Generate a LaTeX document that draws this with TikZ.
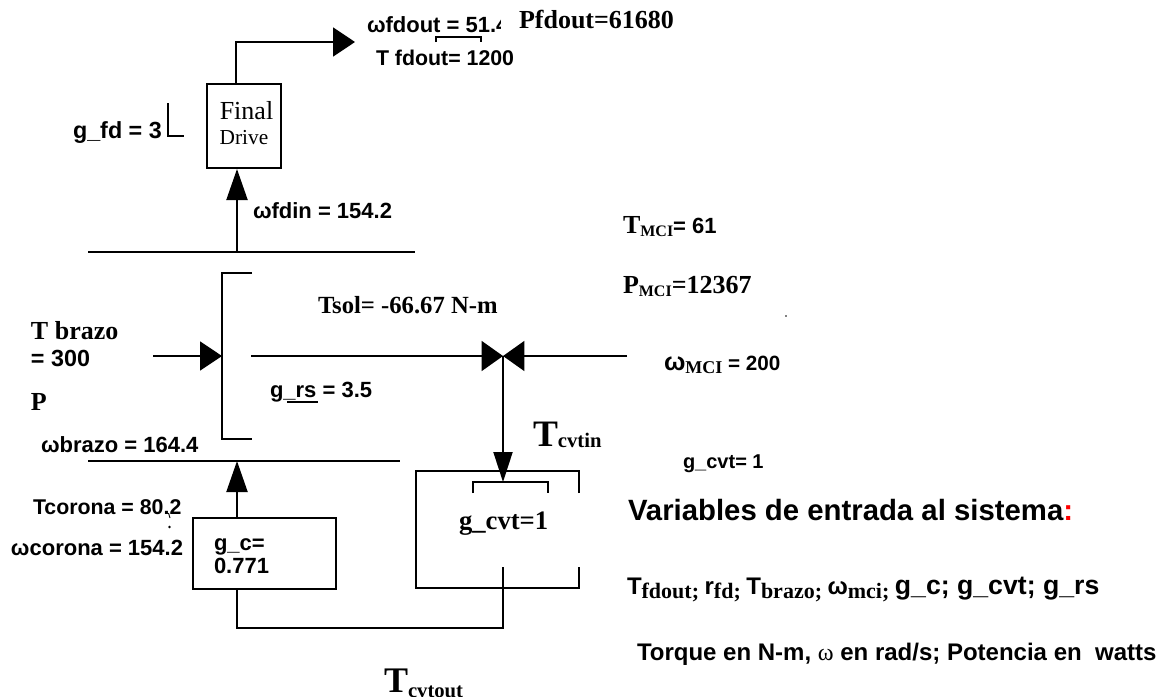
\documentclass[tikz,border=0pt]{standalone}
\usepackage{fontspec}
\setmainfont{Liberation Serif}
\setsansfont{Liberation Sans}
\usetikzlibrary{arrows.meta}
\newcommand{\sfb}[1]{\fontsize{#1}{#1}\selectfont\sffamily\bfseries}
\newcommand{\rmb}[1]{\fontsize{#1}{#1}\selectfont\rmfamily\bfseries}
\begin{document}
\begin{tikzpicture}[x=0.75pt,y=-0.75pt,line width=1.5pt,
  lab/.style={inner sep=0pt, anchor=base west, font=\sfb{16.5}},
  tlab/.style={inner sep=0pt, anchor=base west, font=\rmb{19.5}},
  clab/.style={inner sep=0pt, anchor=base},
  box/.style={draw, inner sep=0pt},
  tipH/.style={-{Triangle[length=16.5pt,width=21.75pt]}},
  tipS/.style={-{Triangle[length=16.1pt,width=22.5pt]}},
  tipV/.style={-{Triangle[length=23.25pt,width=15.75pt]}},
  tipD/.style={-{Triangle[length=22.5pt,width=14.25pt]}}]
\useasboundingbox (0,0) rectangle (1162,696);

% ---------- Final drive ----------
\node[box, minimum width=55.5pt, minimum height=63pt] (fd) at (244,126) {};
\node[clab, font=\rmfamily\fontsize{19.5}{19.5}\selectfont] (fdt1) at (246.5,119) {Final};
\node[clab, font=\rmfamily\fontsize{16}{16}\selectfont] (fdt2) at (244,144) {Drive};

\coordinate (fdoutCorner) at (236,42);
\coordinate (fdoutTip) at (355,42);
\draw[tipH] (fdoutCorner |- fd.north) -- (fdoutCorner) -- (fdoutTip);

\coordinate (busTopL) at (88,252);
\coordinate (busTopR) at (415,252);
\draw (busTopL) -- (busTopR);
\coordinate (fdinBase) at (237,252);
\draw[tipV] (fdinBase) -- (fdinBase |- fd.south);

\coordinate (gfdA) at (168,103);
\coordinate (gfdB) at (168,136);
\coordinate (gfdC) at (184,136);
\draw (gfdA) -- (gfdB) -- (gfdC);

\begin{scope}
\clip (0,0) rectangle (500,100);
\node[lab] (wfdout) at (366,32) {ωfdout = 51.4};
\end{scope}
\coordinate (brA) at (436,42);
\coordinate (brB) at (436,37);
\coordinate (brC) at (481,37);
\coordinate (brD) at (481,42);
\draw (brA) -- (brB) -- (brC) -- (brD);
\node[tlab] (pfd) at (518,28) {Pfdout=61680};
\node[lab, font=\sfb{16}] (tfd) at (375,65) {T fdout= 1200};
\node[lab, font=\sfb{17.5}] (gfd) at (72,138) {g\_fd = 3};
\node[lab] (wfdin) at (252,218) {ωfdin = 154.2};

% ---------- planetary ----------
\coordinate (pbA) at (252,273);
\coordinate (pbB) at (222,273);
\coordinate (pbC) at (222,439);
\coordinate (pbD) at (252,439);
\draw (pbA) -- (pbB) -- (pbC) -- (pbD);

\coordinate (brazoIn) at (153,356);
\coordinate (bracketMid) at (222,356);
\draw[tipH] (brazoIn) -- (bracketMid);

\coordinate (sunL) at (251,356);
\coordinate (junc) at (503,356);
\coordinate (mciR) at (627,356);
\draw[tipS] (sunL) -- (junc);
\draw[tipS] (mciR) -- (junc);

% ---------- CVT ----------
\coordinate (cvtIn) at (503,482);
\draw[tipD] (junc) -- (cvtIn);
\coordinate (ibA) at (473,493);
\coordinate (ibB) at (473,482);
\coordinate (ibC) at (548,482);
\coordinate (ibD) at (548,493);
\draw (ibA) -- (ibB) -- (ibC) -- (ibD);

\coordinate (cvA) at (579,493);
\coordinate (cvB) at (579,471);
\coordinate (cvC) at (416,471);
\coordinate (cvD) at (416,588);
\coordinate (cvE) at (579,588);
\coordinate (cvF) at (579,567);
\draw (cvA) -- (cvB) -- (cvC) -- (cvD) -- (cvE) -- (cvF);
\node[tlab, font=\rmb{20}] (gcvtin) at (458,529) {g\_cvt=1};

% ---------- ring / g_c ----------
\node[box, minimum width=107.25pt, minimum height=53.25pt] (gc) at (264.5,553.5) {};
\node[lab] (gc1) at (213,550) {g\_c=};
\node[lab] (gc2) at (213,573) {0.771};

\coordinate (cvtOut) at (503,567);
\coordinate (retA) at (503,628);
\coordinate (retB) at (237,628);
\draw (cvtOut) -- (retA) -- (retB) -- (retB |- gc.south);

\coordinate (busBotL) at (88,461);
\coordinate (busBotR) at (400,461);
\draw (busBotL) -- (busBotR);
\coordinate (ringIn) at (237,461);
\draw[tipV] (ringIn |- gc.north) -- (ringIn);

% ---------- labels ----------
\node[tlab] (tbrazo) at (30,339) {T brazo};
\node[lab, font=\sfb{17.5}] (tbrazo2) at (30,366) {= 300};
\node[tlab] (pl) at (30,410) {P};
\node[tlab, font=\rmb{18.5}] (tsol) at (317,313) {Tsol= -66.67 N-m};
\node[lab] (grs) at (269,397) {g\_rs = 3.5};
\coordinate (grsU1) at (287,402);
\coordinate (grsU2) at (318,402);
\draw[line width=1.1pt] (grsU1) -- (grsU2);
\node[lab] (wbrazo) at (40,452) {ωbrazo = 164.4};
\node[lab, font=\sfb{16}] (tcorona) at (32,514) {Tcorona = 80.2};
\node[lab] (wcorona) at (10,555) {ωcorona = 154.2};
\fill (169.5,527) circle (1pt);
\draw[line width=0.7pt] (168.5,513) -- (170,518);
\fill (786,316) circle (0.6pt);

\node[lab] (tmci) at (622,233) {\rmb{19.5}T\raisebox{-2.25pt}{\rmb{12}MCI}\sfb{16.5}= 61};
\node[lab] (pmci) at (622,293) {\rmb{19.5}P\raisebox{-2.25pt}{\rmb{12}MCI}\rmb{19.5}=12367};
\node[lab] (wmci) at (663,370) {\sfb{19}ω\raisebox{-2.25pt}{\rmb{13.5}MCI}\sfb{15.5} = 200};
\node[lab] (tcvtin) at (532,446) {\rmb{28}T\raisebox{-1pt}{\rmb{15.5}cvtin}};
\node[lab] (tcvtout) at (383,692) {\rmb{27}T\raisebox{-3.75pt}{\rmb{15.5}cvtout}};
\node[lab, font=\sfb{15}] (gcvt) at (682,468) {g\_cvt= 1};

\node[lab, font=\sfb{22}] (vars) at (627,520) {Variables de entrada al sistema\textcolor{red}{:}};
\node[lab, font=\sfb{18}] (varlist) at (626,594) {T\raisebox{-3pt}{\rmb{16.5}fdout; }\sfb{18}r\raisebox{-3pt}{\rmb{16.5}fd; }\sfb{18}T\raisebox{-3pt}{\rmb{16.5}brazo; }\sfb{18}ω\raisebox{-3pt}{\rmb{16.5}mci; }\sfb{20}g\_c; g\_cvt; g\_rs};
\node[lab, font=\sfb{18}] (units) at (636,660) {Torque en N-m, {\rmfamily\mdseries ω} en rad/s; Potencia en \ watts};
\end{tikzpicture}
\end{document}
